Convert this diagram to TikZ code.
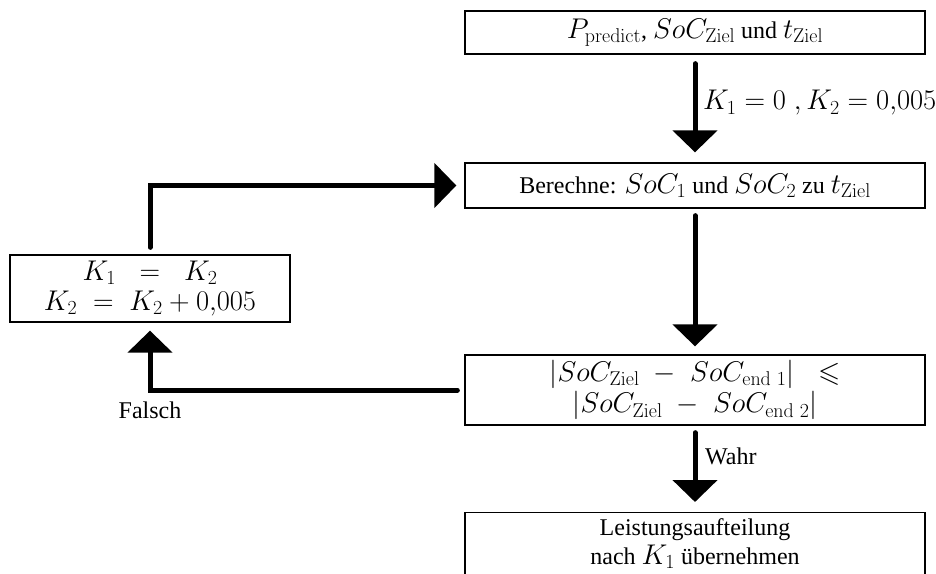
\RequirePackage{fix-cm}
\documentclass[tikz,border=0pt]{standalone}
\usepackage{amsmath,amssymb}
\usepackage[no-math]{fontspec}
\setmainfont[Scale=0.842]{Liberation Serif}
\usetikzlibrary{arrows.meta,positioning}
\tikzset{
  box/.style={draw, line width=1.3pt, align=center, inner sep=0pt,
    minimum width=460pt, font=\fontsize{28.5}{30}\selectfont},
  flow/.style={line width=5pt, line cap=round, line join=miter,
    -{Triangle[width=44pt,length=22pt]}},
  lbl/.style={font=\fontsize{28.5}{30}\selectfont, inner sep=0pt}
}
\begin{document}
\begin{tikzpicture}[x=1pt,y=-1pt]
\useasboundingbox (0,0) rectangle (936,573);
\node[box, minimum height=43pt] (top) at (695,32.5) {$P_{\mathrm{predict}}$, $SoC_{\mathrm{Ziel}}$ und $t_{\mathrm{Ziel}}$};
\node[box, minimum height=45pt] (calc) at (695,185.5) {Berechne: $SoC_1$ und $SoC_2$ zu $t_{\mathrm{Ziel}}$};
\node[box, minimum height=70pt] (cmp) at (695,390) {$\lvert SoC_{\mathrm{Ziel}} \;-\; SoC_{\mathrm{end}\ 1}\rvert \;\;\leqslant$\\[1.5pt] $\lvert SoC_{\mathrm{Ziel}} \;-\; SoC_{\mathrm{end}\ 2}\rvert$};
\node[box, minimum height=62pt, anchor=north] (res) at (695,512) {Leistungsaufteilung\\[-1pt] nach $K_1$ übernehmen};
\node[box, minimum width=280pt, minimum height=67pt] (upd) at (150,288.5) {$K_1 \;\;=\;\; K_2$\\ $K_2 \;=\; K_2 + 0{,}005$};
\draw[flow, shorten <=9pt, shorten >=10pt] (top) -- (calc);
\draw[flow, shorten <=7pt, shorten >=8pt] (calc) -- (cmp);
\draw[flow, shorten <=7pt, shorten >=10pt] (cmp) -- (res);
\draw[flow, shorten <=7pt, shorten >=8pt] (cmp.west) -| (upd.south);
\draw[flow, shorten <=7pt, shorten >=8pt] (upd.north) |- (calc.west);
\node[lbl, anchor=west] (l1) at (703,103) {$K_1 = 0\;, K_2 = 0{,}005$};
\node[lbl, anchor=west] (l2) at (705,456) {Wahr};
\node[lbl] (l3) at (150,410) {Falsch};
\end{tikzpicture}
\end{document}
